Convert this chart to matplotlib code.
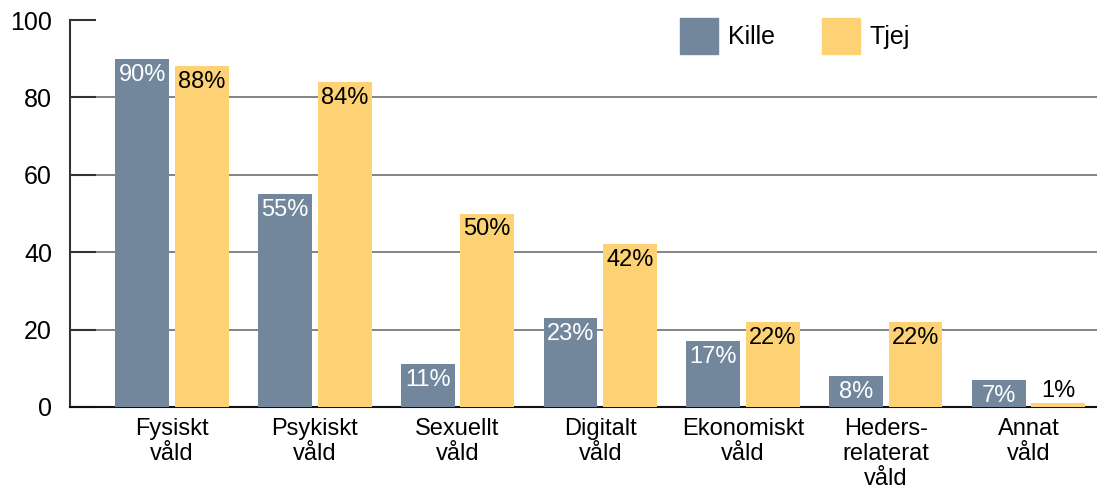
import matplotlib
matplotlib.use('Agg')
import matplotlib.pyplot as plt
import numpy as np
from matplotlib.patches import Patch

categories = ['Fysiskt\nvåld', 'Psykiskt\nvåld', 'Sexuellt\nvåld', 'Digitalt\nvåld',
              'Ekonomiskt\nvåld', 'Heders-\nrelaterat\nvåld', 'Annat\nvåld']
kille = [90, 55, 11, 23, 17, 8, 7]
tjej = [88, 84, 50, 42, 22, 22, 1]
series_names = ['Kille', 'Tjej']

c_kille = '#72879c'
c_tjej = '#fdd274'

plt.rcParams['font.family'] = ['Liberation Sans', 'DejaVu Sans']

fig = plt.figure(figsize=(10.97, 4.91), dpi=100)
ax = fig.add_axes([70 / 1097, 1 - 407 / 491, 1 - 70 / 1097, 387 / 491])

x = np.arange(len(categories))
w = 0.378
off = 0.2085
b1 = ax.bar(x - off, kille, w, color=c_kille, zorder=3)
b2 = ax.bar(x + off, tjej, w, color=c_tjej, zorder=3)

for rect, v in zip(b1, kille):
    ax.annotate(f'{v}%', (rect.get_x() + rect.get_width() / 2, v), xytext=(0, -3.5),
                textcoords='offset points', ha='center', va='top', color='white',
                fontsize=17, zorder=4)
for rect, v in zip(b2, tjej):
    if v >= 5:
        ax.annotate(f'{v}%', (rect.get_x() + rect.get_width() / 2, v), xytext=(0, -3.5),
                    textcoords='offset points', ha='center', va='top', color='black',
                    fontsize=17, zorder=4)
    else:
        ax.annotate(f'{v}%', (rect.get_x() + rect.get_width() / 2, v), xytext=(0, 1),
                    textcoords='offset points', ha='center', va='bottom', color='black',
                    fontsize=17, zorder=4)

ax.set_xlim(-0.715, 6.48)
ax.set_ylim(0, 100)
ax.set_yticks([0, 20, 40, 60, 80, 100])
ax.tick_params(axis='y', direction='in', length=19, width=1.5, color='#333333',
               labelsize=18, pad=13)
ax.tick_params(axis='x', length=0, labelsize=17, pad=8)
ax.set_xticks(x)
ax.set_xticklabels(categories, linespacing=1.17)

for y in [20, 40, 60, 80]:
    ax.axhline(y, color='#6e6e6e', lw=1.2, zorder=1)

for s in ['top', 'right']:
    ax.spines[s].set_visible(False)
ax.spines['left'].set_color('#333333')
ax.spines['left'].set_linewidth(1.5)
ax.spines['bottom'].set_color('#111111')
ax.spines['bottom'].set_linewidth(1.5)

handles = [Patch(color=c_kille), Patch(color=c_tjej)]
fig.legend(handles, series_names, loc='upper left', bbox_to_anchor=(680 / 1097, 1 - 18 / 491),
           ncol=2, frameon=False, fontsize=18, handlelength=1.5, handleheight=1.85,
           columnspacing=1.9, handletextpad=0.4, borderpad=0, borderaxespad=0)

fig.savefig('out.png', dpi=100)
